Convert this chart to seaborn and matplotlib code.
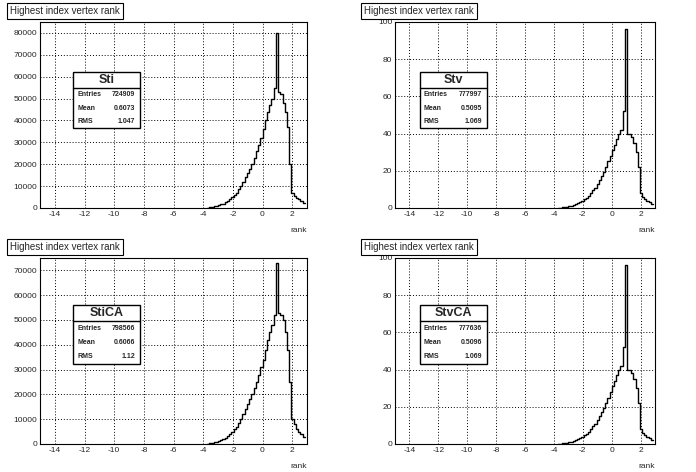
import numpy as np
import pandas as pd
import seaborn as sns
import matplotlib.pyplot as plt
from matplotlib.patches import Rectangle
from matplotlib.ticker import MultipleLocator

sns.set_theme(style="white")
plt.rcParams['font.family'] = ['Liberation Sans', 'DejaVu Sans']
plt.rcParams['axes.unicode_minus'] = False

bin_width = 0.15
first_edge = -3.75
titles = ["Sti", "Stv", "StiCA", "StvCA"]
entries = ["724909", "777997", "798566", "777636"]
means = ["0.6073", "0.5095", "0.6066", "0.5096"]
rms = ["1.047", "1.069", "1.12", "1.069"]

sti = [200, 400, 600, 800, 1000, 1300, 1600, 2000, 2600, 3300, 4000, 5000, 6000, 7000, 8500, 10000,
       12000, 14000, 16000, 18000, 20000, 23000, 26000, 29000, 32000, 36000, 40000, 44000, 47000, 50000, 55000,
       80000, 53000, 52000, 48000, 44000, 37000, 20000, 7000, 5500, 4500, 4000, 3000, 2500]
stv = [100, 200, 300, 500, 700, 900, 1200, 1500, 2000, 2500, 3000, 3800, 4600, 5500, 6500, 8000,
       9500, 11000, 13000, 15000, 17000, 19500, 22000, 25000, 28000, 31000, 34000, 37000, 40000, 42000, 52000,
       96000, 40000, 40000, 38000, 35000, 30000, 22000, 8000, 6000, 5000, 4000, 3000, 2000]
stica = [200, 400, 600, 800, 1000, 1300, 1600, 2000, 2600, 3200, 4000, 5000, 6000, 7000, 8500, 10000,
         12000, 14000, 16000, 18000, 20000, 22500, 25000, 28000, 31000, 34000, 38000, 42000, 45000, 48000, 52000,
         73000, 53000, 52000, 50000, 45000, 38000, 25000, 10000, 8000, 6000, 5000, 4000, 3000]
stvca = [100, 200, 300, 500, 700, 900, 1200, 1500, 2000, 2500, 3000, 3800, 4600, 5500, 6500, 8000,
         9500, 11000, 13000, 15000, 17000, 19500, 22000, 25000, 28000, 31000, 34000, 37000, 40000, 42000, 52000,
         96000, 40000, 40000, 38000, 35000, 30000, 22000, 8000, 6000, 5000, 4000, 3000, 2000]
series = [sti, stv, stica, stvca]
ylims = [(0, 85000), (0, 100000), (0, 75000), (0, 100000)]
ysteps = [10000, 20000, 10000, 20000]
scaled = [False, True, False, True]

fig = plt.figure(figsize=(6.96, 4.72), dpi=100)
W, H = 696, 472
axpos = [(40, 22, 267, 186), (395, 22, 260, 186), (40, 258, 267, 186), (395, 258, 260, 186)]
boxpos = [(73, 72, 67, 56), (420, 72, 67, 56), (73, 305, 67, 59), (420, 305, 67, 59)]
titlepos = [(10, 4), (364, 4), (10, 240), (364, 240)]

for i in range(4):
    x0, y0, w, h = axpos[i]
    ax = fig.add_axes([x0 / W, 1 - (y0 + h) / H, w / W, h / H])
    vals = np.array(series[i], dtype=float)
    lefts = first_edge + bin_width * np.arange(len(vals))
    df = pd.DataFrame({"rank": lefts + bin_width / 2, "w": vals})
    sns.histplot(data=df, x="rank", weights="w", binwidth=bin_width,
                 binrange=(first_edge, first_edge + bin_width * len(vals)),
                 element="step", fill=False, color="black", linewidth=1.0, ax=ax)
    ax.set_xlim(-15, 3)
    ax.set_ylim(*ylims[i])
    ax.xaxis.set_major_locator(MultipleLocator(2))
    ax.xaxis.set_minor_locator(MultipleLocator(0.4))
    ax.yaxis.set_minor_locator(MultipleLocator(ysteps[i] / 5))
    ax.tick_params(which="both", direction="in", top=False, right=False, labelsize=6, pad=2)
    ax.tick_params(which="major", length=6)
    ax.tick_params(which="minor", length=3)
    ax.grid(True, which="major", linestyle=(0, (1, 2)), color="black", linewidth=0.7)
    if scaled[i]:
        ax.set_yticks(np.arange(0, 100001, 20000))
        ax.set_yticklabels([str(v) for v in range(0, 101, 20)])
        ax.text(0.01, 1.003, "10³", transform=ax.transAxes, fontsize=4.5, ha="left", va="bottom")
    else:
        ticks = np.arange(0, ylims[i][1] + 1, ysteps[i])
        ax.set_yticks(ticks)
        ax.set_yticklabels([str(int(v)) for v in ticks])
    ax.set_xlabel("")
    ax.set_ylabel("")
    ax.text(1.0, -0.1, "rank", transform=ax.transAxes, fontsize=6, ha="right", va="top")
    for s in ax.spines.values():
        s.set_color("black"); s.set_linewidth(0.8)
    tx, ty = titlepos[i]
    fig.text(tx / W, 1 - (ty + 7) / H, "Highest index vertex rank", fontsize=7,
             ha="left", va="center",
             bbox=dict(boxstyle="square,pad=0.3", fc="white", ec="black", lw=0.8))
    bx, by, bw, bh = boxpos[i]
    fig.patches.append(Rectangle((bx / W, 1 - (by + bh) / H), bw / W, bh / H, transform=fig.transFigure,
                                 fc="white", ec="black", lw=1.0, zorder=5))
    th = 16
    fig.lines.append(plt.Line2D([bx / W, (bx + bw) / W], [1 - (by + th) / H] * 2, transform=fig.transFigure,
                                color="black", lw=1.0, zorder=6))
    fig.text((bx + bw / 2) / W, 1 - (by + th / 2) / H, titles[i], fontsize=9, fontweight="bold",
             ha="center", va="center", zorder=7)
    rows = [("Entries", entries[i]), ("Mean", means[i]), ("RMS", rms[i])]
    rh = (bh - th) / 3
    for j, (lab, v) in enumerate(rows):
        yy = 1 - (by + th + rh * (j + 0.5)) / H
        fig.text((bx + 4) / W, yy, lab, fontsize=5, fontweight="bold", ha="left", va="center", zorder=7)
        fig.text((bx + bw - 5) / W, yy, v, fontsize=5, fontweight="bold", ha="right", va="center", zorder=7)

fig.savefig("out.png", dpi=100, facecolor="white")
